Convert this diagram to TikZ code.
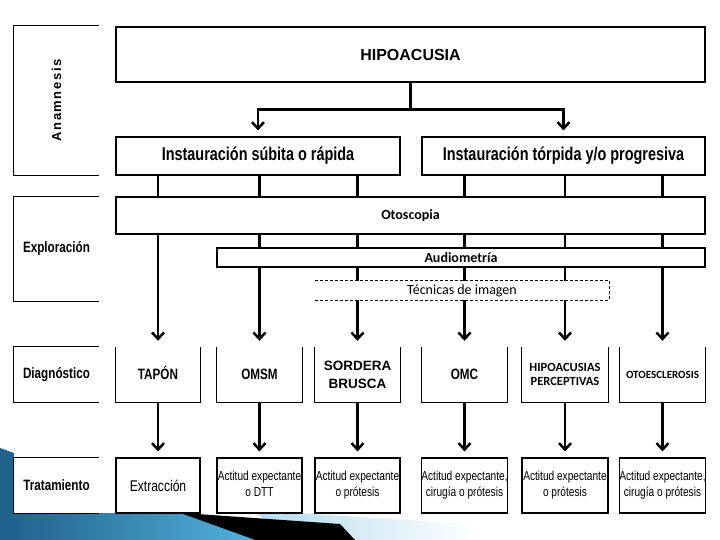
\documentclass[tikz,border=0pt]{standalone}
\usepackage{fontspec}
\setmainfont{Liberation Sans}
\newfontfamily\narrowfont[FakeStretch=0.78]{Liberation Sans}
\newfontfamily\widefont[LetterSpace=12]{Liberation Sans}
\newfontfamily\calfont{Carlito}
\usetikzlibrary{arrows.meta, backgrounds, calc}

\definecolor{slideblue}{HTML}{1F5F8A}
\definecolor{slidecyan}{HTML}{52B2DC}
\definecolor{slidepale}{HTML}{B3DAEF}

\tikzset{
    box/.style={draw, line width=1.1pt, fill=white, inner sep=0pt, align=center},
    openbox/.style={fill=white, inner sep=0pt, align=center},
    side/.style={line width=1.1pt},
    link/.style={line width=2.5pt},
    flow/.style={line width=2.5pt, -{Straight Barb[length=6.5pt, width=12pt]}, shorten >=6pt},
    rowlabel/.style={font=\narrowfont\bfseries\fontsize{15}{17}\selectfont},
    headtext/.style={font=\narrowfont\bfseries\fontsize{18.5}{20}\selectfont},
    testtext/.style={font=\calfont\bfseries\fontsize{14}{16}\selectfont},
    diagtext/.style={font=\narrowfont\bfseries\fontsize{15}{17}\selectfont, text height=10.7pt, text depth=0pt},
    treattext/.style={font=\narrowfont\fontsize{13}{16}\selectfont}
}

\begin{document}
\begin{tikzpicture}[x=1pt, y=-1pt]
    \useasboundingbox (0,0) rectangle (720,540);

    % Row labels
    \node[openbox, minimum width=85pt, minimum height=149pt] (anam) at (56.5,100.5) {};
    \node[rotate=90, font=\widefont\bfseries\fontsize{13}{15}\selectfont] (anamtext) at (anam) {Anamnesis};
    \node[openbox, rowlabel, minimum width=85pt, minimum height=104pt] (expl) at (56.5,249) {Exploración};
    \node[openbox, rowlabel, minimum width=85pt, minimum height=55pt] (diag) at (56.5,374.5) {Diagnóstico};
    \node[openbox, rowlabel, minimum width=85pt, minimum height=55pt] (trat) at (56.5,485.5) {Tratamiento};

    % Anamnesis
    \node[box, minimum width=589pt, minimum height=55pt, font=\bfseries\fontsize{16}{18}\selectfont] (hipo) at (410.5,54.5) {HIPOACUSIA};
    \node[box, headtext, minimum width=284pt, minimum height=38pt] (subita) at (258,156) {Instauración súbita o rápida};
    \node[box, headtext, minimum width=283pt, minimum height=38pt] (torpida) at (563.5,156) {Instauración tórpida y/o progresiva};

    % Exploracion
    \node[box, testtext, minimum width=589pt, minimum height=37pt] (otos) at (410.5,215.5) {Otoscopia};
    \node[box, testtext, minimum width=488pt, minimum height=19pt] (audio) at (461,257.5) {Audiometría};
    \node[openbox, font=\calfont\fontsize{14}{16}\selectfont, minimum width=294pt, minimum height=19pt] (tecn) at (462,290.5) {Técnicas de imagen};

    % Diagnostico
    \node[openbox, diagtext, minimum width=84pt, minimum height=55pt] (d1) at (158,374.5) {TAPÓN};
    \node[openbox, diagtext, minimum width=85pt, minimum height=55pt] (d2) at (259.5,374.5) {OMSM};
    \node[openbox, font=\bfseries\fontsize{13.5}{18}\selectfont, minimum width=85pt, minimum height=55pt] (d3) at (357.5,374.5) {SORDERA\\BRUSCA};
    \node[openbox, diagtext, minimum width=85pt, minimum height=55pt] (d4) at (464.5,374.5) {OMC};
    \node[openbox, font=\calfont\bfseries\fontsize{12.5}{14.5}\selectfont, minimum width=86pt, minimum height=55pt] (d5) at (565,374.5) {HIPOACUSIAS\\PERCEPTIVAS};
    \node[openbox, font=\calfont\bfseries\fontsize{11}{13}\selectfont, minimum width=85pt, minimum height=55pt] (d6) at (662.5,374.5) {OTOESCLEROSIS};

    % Tratamiento
    \node[box, font=\narrowfont\fontsize{15.5}{18}\selectfont, minimum width=84pt, minimum height=55pt] (t1) at (158,485.5) {Extracción};
    \node[box, treattext, minimum width=85pt, minimum height=55pt] (t2) at (259.5,485.5) {Actitud expectante\strut\\o DTT\strut};
    \node[box, treattext, minimum width=85pt, minimum height=55pt] (t3) at (357.5,485.5) {Actitud expectante\strut\\o prótesis\strut};
    \node[box, treattext, minimum width=85pt, minimum height=55pt] (t4) at (464.5,485.5) {Actitud expectante,\strut\\cirugía o prótesis\strut};
    \node[box, treattext, minimum width=86pt, minimum height=55pt] (t5) at (565,485.5) {Actitud expectante\strut\\o prótesis\strut};
    \node[box, treattext, minimum width=85pt, minimum height=55pt] (t6) at (662.5,485.5) {Actitud expectante,\strut\\cirugía o prótesis\strut};

    % Open sides
    \foreach \n in {anam,expl,diag,trat}
        \draw[side] (\n.north east) -- (\n.north west) -- (\n.south west) -- (\n.south east);
    \foreach \i in {1,...,6}
        \draw[side] (d\i.north west) -- (d\i.south west) -- (d\i.south east) -- (d\i.north east);
    \draw[side, line width=0.8pt, densely dashed] (tecn.north west) -- (tecn.north east) -- (tecn.south east) -- (tecn.south west);

    \begin{scope}[on background layer]
        % Slide decoration
        \fill[white] (0,0) rectangle (720,540);
        \shade[left color=slidepale, right color=white] (250,510) -- (470,524) -- (480,540) -- (300,540) -- cycle;
        \fill[black] (140,510) -- (340,524) -- (355,540) -- (230,540) -- cycle;
        \shade[left color=slideblue, right color=slidecyan] (0,448) -- (255,540) -- (0,540) -- cycle;
        \fill[white] (14,440) rectangle (720,513);

        % Connectors
        \draw[link] (hipo.south) -- ++(0,27) coordinate (split);
        \draw[flow] (split) -| (subita.north);
        \draw[flow] (split) -| (torpida.north);
        \foreach \i in {1,2,3}
            \draw[flow] (subita.south -| d\i.north) -- (d\i.north);
        \foreach \i in {4,5,6}
            \draw[flow] (torpida.south -| d\i.north) -- (d\i.north);
        \foreach \i in {1,...,6}
            \draw[flow] (d\i.south) -- (t\i.north);
    \end{scope}
\end{tikzpicture}
\end{document}
